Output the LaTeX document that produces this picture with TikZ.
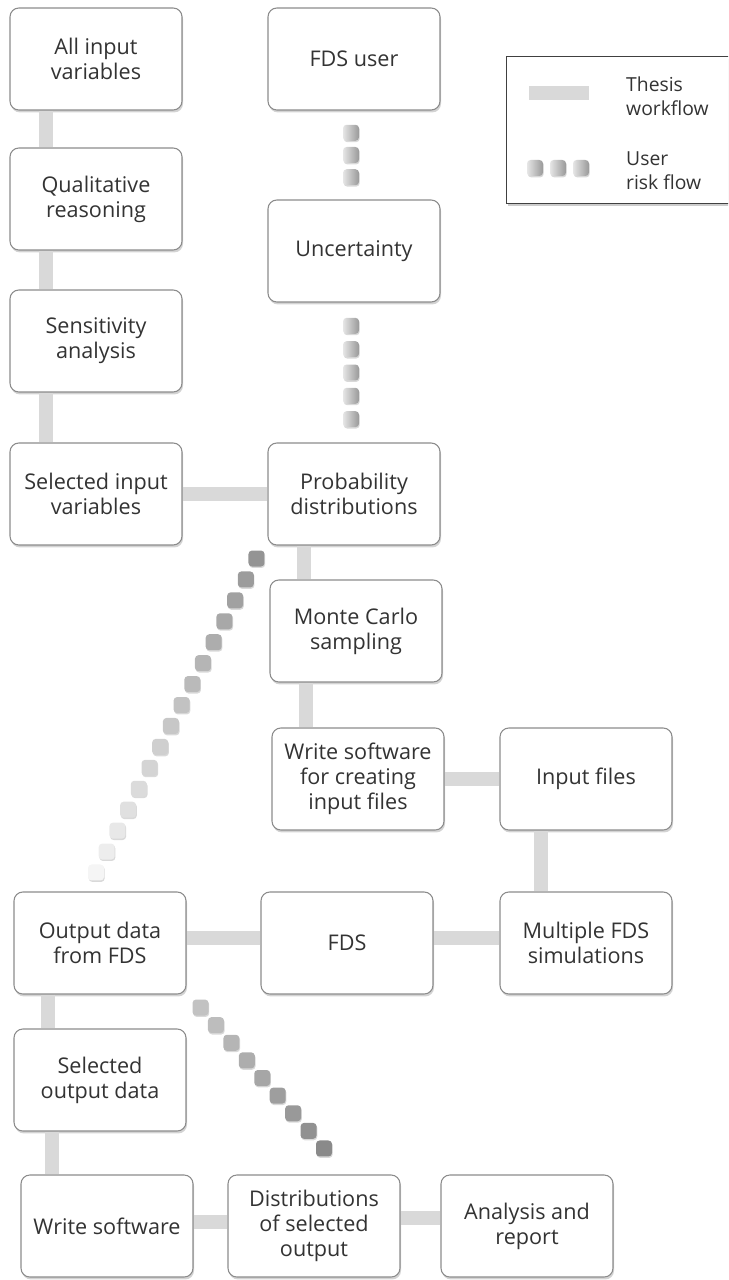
\documentclass[tikz,border=0pt]{standalone}
\usepackage{fontspec}
\setmainfont{Open Sans}
\usetikzlibrary{calc, shadows}

\begin{document}
\begin{tikzpicture}[
            x=0.02cm, y=-0.02cm,
            box/.style={draw=black!45, line width=0.6pt, fill=white, rounded corners=5pt, minimum width=3.44cm, minimum height=2.04cm, align=center, text=black!80, font=\fontsize{12.3}{14.3}\selectfont, drop shadow={shadow xshift=0.6pt, shadow yshift=-1.4pt, opacity=0.35}},
            flow/.style={line width=0.28cm, draw=black!15},
            riskdot/.style={minimum size=0.32cm, inner sep=0pt, rounded corners=2pt, drop shadow={shadow xshift=0.4pt, shadow yshift=-0.8pt, opacity=0.3}},
            risk/.style={riskdot, left color=black!10, right color=black!40},
            legtext/.style={align=left, text=black!80, font=\fontsize{11}{13.5}\selectfont}
        ]
        \clip (0,0) rectangle (728,1280);

        % The Boxes
        \node[box] (allin) at (96,59) {All input\\variables};
        \node[box] (qual) at (96,199) {Qualitative\\reasoning};
        \node[box] (sens) at (96,341) {Sensitivity\\analysis};
        \node[box] (selin) at (96,494) {Selected input\\variables};
        \node[box] (user) at (354,59) {FDS user};
        \node[box] (unc) at (354,251) {Uncertainty};
        \node[box] (prob) at (354,494) {Probability\\distributions};
        \node[box] (mc) at (356,631) {Monte Carlo\\sampling};
        \node[box] (wsw) at (358,779) {Write software\\for creating\\input files};
        \node[box] (infiles) at (586,779) {Input files};
        \node[box] (out) at (100,943) {Output data\\from FDS};
        \node[box] (fds) at (347,943) {FDS};
        \node[box] (multi) at (586,943) {Multiple FDS\\simulations};
        \node[box] (selout) at (100,1080) {Selected\\output data};
        \node[box] (wsw2) at (107,1226) {Write software};
        \node[box] (dist) at (314,1226) {Distributions\\of selected\\output};
        \node[box] (report) at (527,1226) {Analysis and\\report};

        % Thesis workflow
        \draw[flow] ([xshift=-1cm]allin.south) -- ([xshift=-1cm]allin.south |- qual.north);
        \draw[flow] ([xshift=-1cm]qual.south) -- ([xshift=-1cm]qual.south |- sens.north);
        \draw[flow] ([xshift=-1cm]sens.south) -- ([xshift=-1cm]sens.south |- selin.north);
        \draw[flow] (selin.east) -- (selin.east -| prob.west);
        \draw[flow] ([xshift=-1cm]prob.south) -- ([xshift=-1cm]prob.south |- mc.north);
        \draw[flow] ([xshift=-1cm]mc.south) -- ([xshift=-1cm]mc.south |- wsw.north);
        \draw[flow] (wsw.east) -- (wsw.east -| infiles.west);
        \draw[flow] ([xshift=-0.9cm]infiles.south) -- ([xshift=-0.9cm]infiles.south |- multi.north);
        \draw[flow] ([yshift=0.1cm]multi.west) -- ([yshift=0.1cm]multi.west -| fds.east);
        \draw[flow] ([yshift=0.1cm]fds.west) -- ([yshift=0.1cm]fds.west -| out.east);
        \draw[flow] ([xshift=-1.04cm]out.south) -- ([xshift=-1.04cm]out.south |- selout.north);
        \draw[flow] ([xshift=-0.96cm]selout.south) -- ([xshift=-0.96cm]selout.south |- wsw2.north);
        \draw[flow] ([yshift=0.08cm]wsw2.east) -- ([yshift=0.08cm]wsw2.east -| dist.west);
        \draw[flow] ([yshift=0.16cm]dist.east) -- ([yshift=0.16cm]dist.east -| report.west);

        % User risk flow
        \foreach \i in {1,2,3}
            \node[risk] (ur-\i) at ($(user.south)!\i/4!(unc.north)+(-3,0)$) {};
        \foreach \i in {1,...,5}
            \node[risk] (up-\i) at ($(unc.south)!\i/6!(prob.north)+(-3,0)$) {};

        \coordinate (d1a) at ($(prob.south west)+(-11,13)$);
        \coordinate (d1b) at ($(out.north)+(-4,-19)$);
        \foreach \i [evaluate=\i as \c using int(42-2.5*\i)] in {0,...,15}
            \node[riskdot, fill=black!\c] (pd-\i) at ($(d1a)!\i/15!(d1b)$) {};

        \coordinate (d2a) at ($(out.south east)+(14,13)$);
        \coordinate (d2b) at ($(dist.north)+(10,-26)$);
        \foreach \i [evaluate=\i as \c using int(24+2.8*\i)] in {0,...,8}
            \node[riskdot, fill=black!\c] (od-\i) at ($(d2a)!\i/8!(d2b)$) {};

        % Legend
        \node[draw=black!75, line width=0.6pt, fill=white, anchor=north west, minimum width=5.2cm, minimum height=2.94cm, drop shadow={shadow xshift=0.6pt, shadow yshift=-1.4pt, opacity=0.4}] (legend) at (506,56) {};
        \coordinate (lega) at (529,93);
        \coordinate (legb) at (589,93);
        \draw[flow] (lega) -- (legb);
        \foreach \i in {0,1,2}
            \node[risk] (leg-\i) at ($(535,168)+(\i*23,0)$) {};
        \node[legtext, anchor=west] (legwork) at (620,96) {Thesis\\workflow};
        \node[legtext, anchor=west] (legrisk) at (620,171) {User\\risk flow};

\end{tikzpicture}
\end{document}
